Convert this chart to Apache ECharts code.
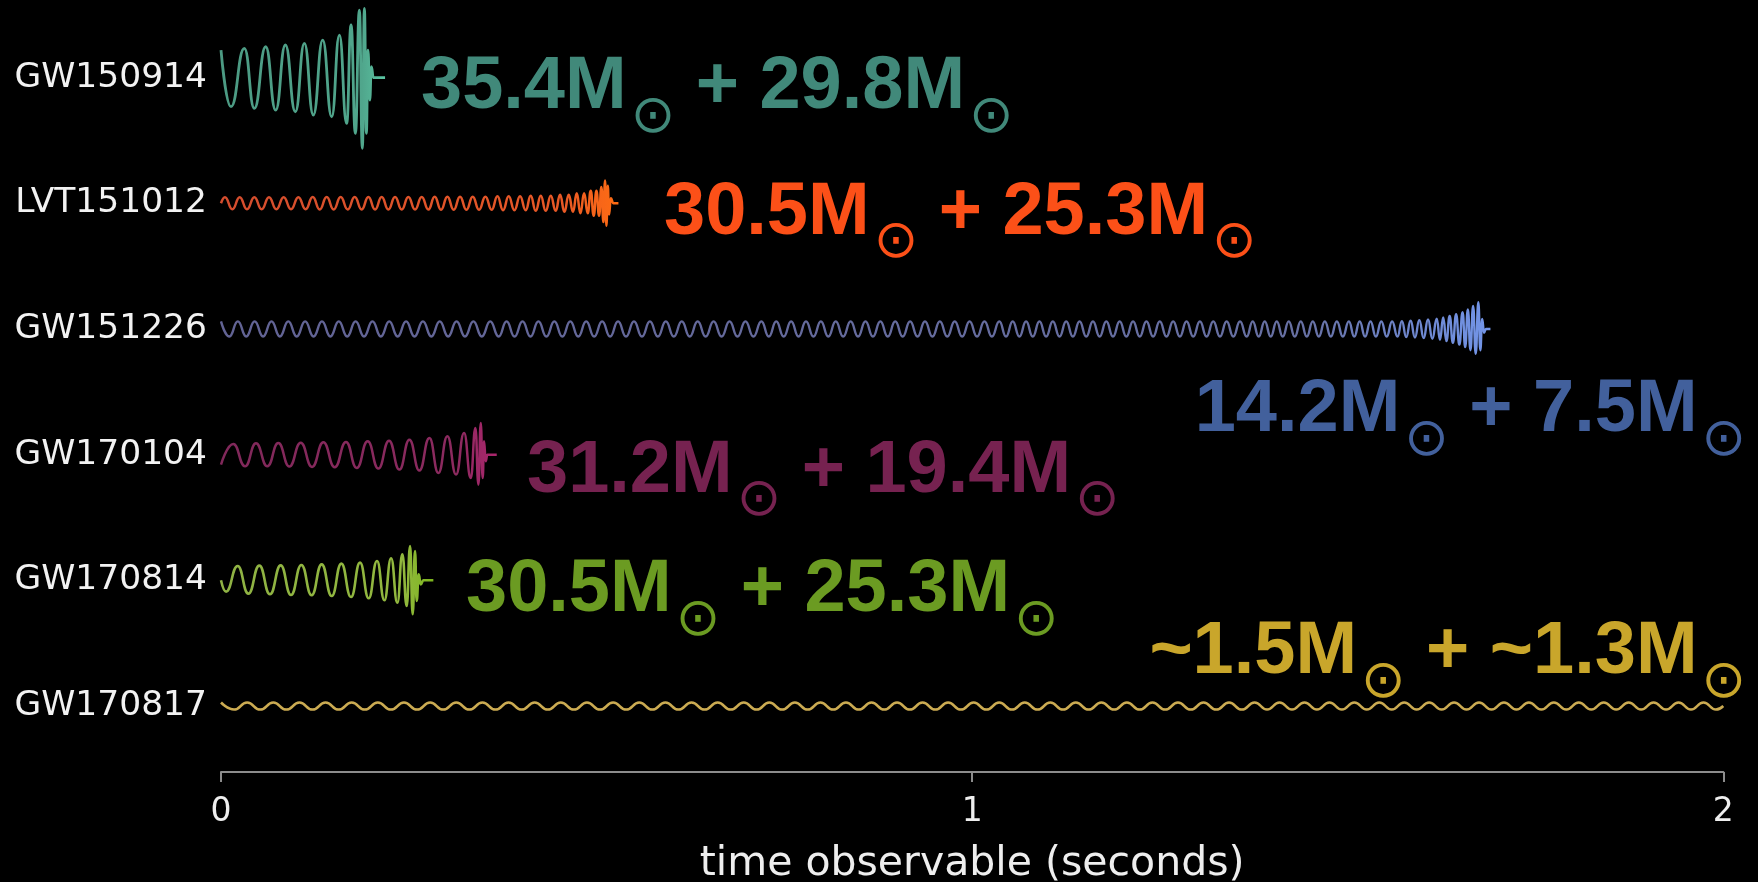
<!DOCTYPE html>
<html><head><meta charset="utf-8">
<script src="https://cdn.jsdelivr.net/npm/echarts@6/dist/echarts.min.js"></script>
<style>html,body{margin:0;padding:0;background:#000;}#c{width:1758px;height:882px;}</style>
</head><body><div id="c"></div>
<script>
// ---------------- data ----------------
const events = ['GW150914', 'LVT151012', 'GW151226', 'GW170104', 'GW170814', 'GW170817'];
const rowValues = [5, 4, 3, 2, 1, 0];
const massA = ['35.4', '30.5', '14.2', '31.2', '30.5', '~1.5'];
const massB = ['29.8', '25.3', '7.5', '19.4', '25.3', '~1.3'];
const timeTicks = [0, 1, 2];
// sign of the first extremum and amplitude used before the listed amplitudes (row units)
const firstSign = [1, -1, 1, -1, 1, 1];
const baseAmp = [0.22, 0.05, 0.06, 0.08, 0.1, 0.028];

const gw150914Times = [0, 13.3, 31.1, 44.4, 59.5, 72.8, 85.7, 99.0, 111.0, 122.9, 135.4, 147.4, 157.6, 167.3, 173.1, 178.9, 184.2, 188.2, 190.9, 193.5, 195.7, 198.0, 200.2, 202.8, 218.4];
const gw150914Amps = [0.219, 0.232, 0.232, 0.245, 0.245, 0.259, 0.259, 0.272, 0.272, 0.298, 0.298, 0.312, 0.338, 0.365, 0.418, 0.444, 0.537, 0.563, 0.55, 0.444, 0.219, 0.179, 0.086, 0, 0];

const lvt151012Times = [0, 5.3, 15.1, 24.9, 34.6, 44.4, 54.1, 63.9, 73.7, 83.4, 93.2, 103.0, 112.7,
  122.1, 131.4, 140.7, 150.0, 159.3, 168.7, 178.0, 187.3,
  196.2, 205.1, 213.9, 222.8, 231.7, 240.6, 249.4, 258.3, 267.2, 276.1,
  284.5, 292.9, 301.4, 309.8, 318.2, 326.7, 335.1, 343.5, 352.0, 360.4,
  368.0, 375.5, 383.0, 390.6, 398.1, 405.7,
  412.3, 419.0, 425.7, 432.3, 439.0, 445.6,
  451.4, 457.2, 462.9, 468.7, 473.6, 478.5, 483.4, 488.2, 492.2, 496.2, 499.8, 503.3,
  506.4, 509.1, 511.3, 513.1, 514.9, 516.6, 518.9, 522.4, 529.1];
const lvt151012Amps = [0,
  0.048, 0.048, 0.048, 0.048, 0.048, 0.048, 0.048, 0.048, 0.048, 0.048, 0.048, 0.048,
  0.049, 0.049, 0.049, 0.049, 0.049, 0.049, 0.049, 0.049,
  0.050, 0.050, 0.050, 0.050, 0.050, 0.050, 0.050, 0.050, 0.050, 0.050,
  0.052, 0.052, 0.052, 0.052, 0.052, 0.052, 0.052, 0.052, 0.052, 0.052,
  0.055, 0.055, 0.055, 0.055, 0.055, 0.055,
  0.060, 0.060, 0.060, 0.060, 0.060, 0.060,
  0.068, 0.068, 0.068, 0.068, 0.080, 0.080, 0.080, 0.080, 0.100, 0.100, 0.100, 0.100,
  0.13, 0.15, 0.18, 0.18, 0.14, 0.09, 0.04, 0, 0];

const gw151226Times = [0, 11.2, 22.4, 33.6, 44.8, 56, 67.2, 78.4, 89.6, 100.8, 112, 123.2, 134.4, 145.6, 156.8, 168, 179.2, 190.4, 201.6, 212.8, 224, 235.2, 246.4, 257.6, 268.8, 280, 291.2, 302.4, 313.6, 324.8, 336, 347.2, 358.4, 369.6,
  380.2, 390.8, 401.4, 412, 422.6, 433.2, 443.8, 454.4, 465, 475.6, 486.2, 496.8, 507.4, 518, 528.6, 539.2, 549.8, 560.4, 571, 581.6, 592.2, 602.8, 613.4, 624, 634.6, 645.2, 655.8, 666.4, 677, 687.6, 698.2, 708.8, 719.4,
  729.3, 739.2, 749.1, 759, 768.9, 778.8, 788.7, 798.6, 808.5, 818.4, 828.3, 838.2, 848.1, 858, 867.9, 877.8, 887.7, 897.6, 907.5, 917.4, 927.3, 937.2, 947.1, 957, 966.9, 976.8, 986.7, 996.6, 1006.5, 1016.4, 1026.3, 1036.2,
  1045.1, 1054, 1062.9, 1071.8, 1080.7, 1089.6, 1098.5, 1107.4, 1116.3, 1125.2, 1134.1, 1143, 1151.9, 1160.8, 1169.7, 1178.6, 1187.5, 1196.4, 1205.3, 1214.2, 1223.1, 1232, 1240.9, 1249.8, 1258.7, 1267.6, 1276.5, 1285.4, 1294.3, 1303.2, 1312.1, 1321, 1329.9, 1338.8, 1347.7, 1356.6, 1365.5,
  1373.5, 1381.5, 1389.5, 1397.5, 1405.5, 1413.5, 1421.5, 1429.5, 1437.5, 1445.5, 1453.5, 1461.5, 1469.5, 1477.5, 1485.5, 1493.5, 1501.5,
  1508.7, 1515.9, 1523.1, 1530.3, 1537.5, 1544.7, 1551.9, 1559.1, 1566.3,
  1572.1, 1577.9, 1583.7, 1589.5, 1595.3, 1601.1, 1606.9, 1612.7, 1618.5,
  1622.8, 1627.1, 1631.4, 1635.7, 1640, 1644.3, 1648.6, 1652.9,
  1656.4, 1659.9, 1663.4, 1666.9, 1670.4, 1673.9,
  1676.5, 1679, 1681.5, 1684, 1690];
const gw151226Amps = [0.062, 0.064, 0.066, 0.068, 0.070, 0.072, 0.075, 0.078, 0.082,
  0.086, 0.091, 0.097, 0.103, 0.110, 0.117, 0.125, 0.134,
  0.144, 0.156, 0.169, 0.183, 0.198, 0.212,
  0.17, 0.08, 0.03, 0, 0];

const gw170104Times = [0, 16.4, 32.0, 46.6, 61.7, 76.3, 91.0, 106.1, 121.2, 136.3, 151.4, 166.4, 180.7, 195.3, 209.5, 223.7, 237.5, 250.8, 264.1, 277.4, 289.4, 301.4, 312.9, 323.6, 332.5, 338.7, 342.7, 345.8, 348.4, 350.2, 352.4, 354.6, 367.1];
const gw170104Amps = [0.080, 0.085, 0.093, 0.090, 0.093, 0.093, 0.095, 0.095, 0.098, 0.098, 0.101, 0.101, 0.106, 0.106, 0.111, 0.111, 0.119, 0.119, 0.127, 0.133, 0.146, 0.146, 0.159, 0.172, 0.186, 0.212, 0.239, 0.252, 0.186, 0.106, 0.053, 0, 0];

const gw170814Times = [0, 6.7, 22.2, 36.4, 51.0, 65.2, 79.5, 93.2, 107.0, 120.7, 134.0, 147.4, 160.2, 173.1, 185.1, 196.6, 207.7, 217.5, 226.4, 234.8, 241.4, 247.2, 251.7, 255.2, 258.3, 260.5, 263.2, 265.9, 269.4, 282.7];
const gw170814Amps = [0, 0.090, 0.114, 0.106, 0.117, 0.111, 0.119, 0.117, 0.122, 0.119, 0.127, 0.125, 0.133, 0.133, 0.141, 0.143, 0.154, 0.159, 0.175, 0.178, 0.207, 0.204, 0.273, 0.270, 0.233, 0.164, 0.048, 0.032, 0, 0];

const gw170817Times = [0, 17.4, 34.8, 52.2, 69.6, 87.0, 104.4, 121.8, 139.2, 156.6, 174.0, 191.4, 208.8, 226.2, 243.6, 261.0, 278.4, 295.8, 313.2, 330.6, 348.0, 365.4, 382.8, 400.2, 417.6, 435.0, 452.4, 469.8, 487.2, 504.6, 522.0, 539.4, 556.8, 574.2, 591.6, 609.0, 626.4, 643.8, 661.2, 678.6, 696.0,
  713, 730, 747, 764, 781, 798, 815, 832, 849, 866, 883, 900, 917, 934, 951, 968, 985, 1002, 1019, 1036, 1053, 1070, 1087, 1104, 1121, 1138, 1155, 1172, 1189, 1206, 1223, 1240, 1257, 1274, 1291, 1308, 1325, 1342, 1359, 1376,
  1392.6, 1409.2, 1425.8, 1442.4, 1459.0, 1475.6, 1492.2, 1508.8, 1525.4, 1542.0, 1558.6, 1575.2, 1591.8, 1608.4, 1625.0, 1641.6, 1658.2, 1674.8, 1691.4, 1708.0, 1724.6, 1741.2, 1757.8, 1774.4, 1791.0, 1807.6, 1824.2, 1840.8, 1857.4, 1874.0, 1890.6, 1907.2, 1923.8, 1940.4, 1957.0, 1973.6, 1990.2,
  2000];
const gw170817Amps = [0];

const waveTimes = [gw150914Times, lvt151012Times, gw151226Times, gw170104Times, gw170814Times, gw170817Times];
const waveAmps = [gw150914Amps, lvt151012Amps, gw151226Amps, gw170104Amps, gw170814Amps, gw170817Amps];

// ---------------- styling ----------------
const textColors = ['#41897a', '#fc5018', '#42609c', '#762250', '#6b9b22', '#c9a62b'];
const G = (a, b, c) => new echarts.graphic.LinearGradient(0, 0, 1, 0, [{offset: 0, color: a}, {offset: 0.85, color: b}, {offset: 1, color: c}]);
const lineColors = [
  G('#4c9a83', '#50a68c', '#5cc8a5'),
  G('#d44d2e', '#e85826', '#ff6d12'),
  G('#626394', '#6770a3', '#7396ea'),
  G('#80285a', '#8c2a5f', '#ad256d'),
  G('#8fb244', '#92b83e', '#7ab51a'),
  '#cbab52'
];
const lineWidths = [2.8, 2.5, 2.4, 2.5, 2.6, 2.6];

function buildWave(i) {
  const times = waveTimes[i], amps = waveAmps[i];
  const off = times.length - amps.length;
  return times.map((ms, k) => {
    const a = k < off ? baseAmp[i] : amps[k - off];
    const s = (k % 2 === 0 ? 1 : -1) * firstSign[i];
    return [ms / 1000, rowValues[i] + s * a];
  });
}

const series = events.map((name, i) => ({
  type: 'line', name,
  data: buildWave(i),
  smooth: 0.5, smoothMonotone: 'x',
  showSymbol: false, symbol: 'none',
  lineStyle: {color: lineColors[i], width: lineWidths[i]},
  silent: true, z: 2
}));

const annoX = [421, 664, 1746, 527, 466, 1746];
const annoMid = [88, 213.5, 411, 471.4, 591, 653];
const annoAlign = ['left', 'left', 'right', 'left', 'left', 'right'];

const graphic = massA.map((a, i) => ({
  type: 'text', x: annoX[i], y: annoMid[i] - 37, z: 10,
  style: {
    text: '{m|' + a + 'M}{s|\u2299}{m| + ' + massB[i] + 'M}{s|\u2299}',
    align: annoAlign[i], verticalAlign: 'top',
    rich: {
      m: {fontFamily: 'Liberation Sans', fontWeight: 'bold', fontSize: 74, lineHeight: 74, verticalAlign: 'top', fill: textColors[i], color: textColors[i]},
      s: {fontFamily: 'DejaVu Sans', fontSize: 53, lineHeight: 134, verticalAlign: 'middle', fill: textColors[i], color: textColors[i], padding: [0, 0, 0, 4]}
    }
  }
}));

const chart = echarts.init(document.getElementById('c'), null, {renderer: 'canvas'});
chart.setOption({
  backgroundColor: '#000',
  animation: false,
  grid: {left: 221, right: 34.7, top: 0, bottom: 110, containLabel: false, outerBoundsMode: 'none'},
  xAxis: {
    type: 'value', min: 0, max: 2, interval: 1,
    axisLine: {show: true, onZero: false, lineStyle: {color: '#8c8c8c', width: 2}},
    axisTick: {show: true, length: 10, lineStyle: {color: '#8c8c8c', width: 2}},
    axisLabel: {color: '#eeeeee', fontSize: 33, fontFamily: 'DejaVu Sans', margin: 24,
      customValues: timeTicks, formatter: v => String(v)},
    splitLine: {show: false},
    name: 'time observable (seconds)', nameLocation: 'middle', nameGap: 72,
    nameTextStyle: {color: '#eeeeee', fontSize: 41, fontFamily: 'DejaVu Sans'}
  },
  yAxis: {
    type: 'value', min: -0.525, max: 5.617,
    axisLine: {show: false}, axisTick: {show: false}, splitLine: {show: false},
    axisLabel: {show: true, color: '#f2f2f2', fontSize: 34.5, fontFamily: 'DejaVu Sans', margin: 14,
      customValues: rowValues, formatter: v => events[rowValues.indexOf(v)]}
  },
  series,
  graphic
});
</script>
</body></html>
